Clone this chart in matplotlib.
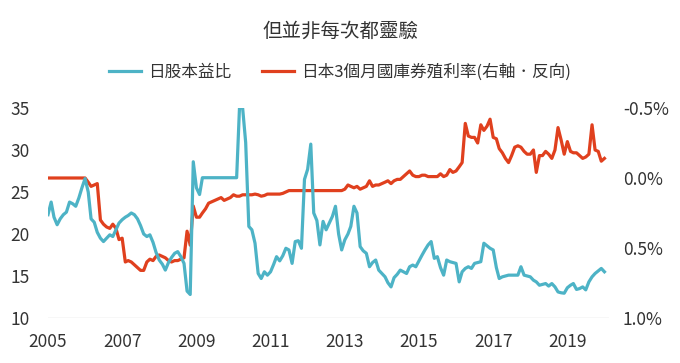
import numpy as np
import pandas as pd
import matplotlib
matplotlib.use("Agg")
import matplotlib.pyplot as plt
import matplotlib.dates as mdates
from matplotlib.ticker import FuncFormatter

plt.rcParams['font.family'] = ['Noto Sans CJK TC', 'DejaVu Sans']

# monthly data, Jan 2005 .. Jan 2020
months = pd.date_range("2005-01-01", periods=181, freq="MS")
tick_years = [2005, 2007, 2009, 2011, 2013, 2015, 2017, 2019]

# Japan stock P/E (left axis)
pe = [
    22.3, 23.8, 22.0, 21.1, 21.8, 22.3, 22.6, 23.8, 23.6, 23.3, 24.3, 25.5,
    26.6, 25.0, 21.8, 21.4, 20.2, 19.5, 19.1, 19.5, 19.9, 19.7, 20.5, 21.3,
    21.7, 22.0, 22.2, 22.5, 22.3, 21.8, 21.0, 20.0, 19.7, 19.9, 19.0, 17.8,
    16.9, 16.4, 15.7, 16.6, 17.2, 17.7, 17.9, 17.3, 16.5, 13.2, 12.8, 28.6,
    25.5, 24.7, 26.7, 26.7, 26.7, 26.7, 26.7, 26.7, 26.7, 26.7, 26.7, 26.7,
    26.7, 26.7, 35.0, 35.0, 30.9, 20.9, 20.5, 18.9, 15.3, 14.7, 15.5, 15.1,
    15.5, 16.4, 17.3, 16.8, 17.4, 18.3, 18.1, 16.5, 19.1, 19.2, 18.3, 26.5,
    27.7, 30.7, 22.5, 21.6, 18.7, 21.5, 20.5, 21.3, 22.1, 23.3, 20.0, 18.1,
    19.3, 20.0, 20.9, 23.3, 22.5, 18.5, 18.0, 17.7, 16.1, 16.6, 16.9, 15.7,
    15.3, 14.9, 14.2, 13.7, 14.8, 15.2, 15.7, 15.5, 15.3, 16.1, 16.3, 16.1,
    16.8, 17.5, 18.1, 18.7, 19.1, 17.1, 17.3, 16.0, 15.1, 16.9, 16.7, 16.6,
    16.5, 14.3, 15.5, 15.9, 16.1, 15.9, 16.5, 16.6, 16.7, 18.9, 18.6, 18.3,
    18.1, 16.0, 14.7, 14.9, 15.0, 15.1, 15.1, 15.1, 15.1, 16.1, 15.1, 15.0,
    14.9, 14.5, 14.3, 13.9, 14.0, 14.1, 13.8, 14.1, 13.7, 13.1, 13.0, 12.95,
    13.6, 13.9, 14.1, 13.4, 13.5, 13.7, 13.35, 14.3, 14.9, 15.3, 15.6, 15.9,
    15.5,
]

# Japan 3M bill yield in % (right axis, inverted)
yld = [
    0.0, 0.0, 0.0, 0.0, 0.0, 0.0, 0.0, 0.0, 0.0, 0.0, 0.0, 0.0,
    0.0, 0.03, 0.06, 0.05, 0.04, 0.30, 0.33, 0.35, 0.36, 0.33, 0.36, 0.44,
    0.43, 0.60, 0.59, 0.60, 0.62, 0.64, 0.66, 0.66, 0.60, 0.58, 0.59, 0.56,
    0.55, 0.56, 0.57, 0.59, 0.60, 0.59, 0.59, 0.58, 0.57, 0.38, 0.48, 0.20,
    0.28, 0.28, 0.25, 0.22, 0.18, 0.17, 0.16, 0.15, 0.14, 0.16, 0.15, 0.14,
    0.12, 0.13, 0.13, 0.12, 0.12, 0.12, 0.12, 0.115, 0.12, 0.13, 0.125, 0.115,
    0.115, 0.115, 0.115, 0.115, 0.11, 0.10, 0.09, 0.09, 0.09, 0.09, 0.09, 0.09,
    0.09, 0.09, 0.09, 0.09, 0.09, 0.09, 0.09, 0.09, 0.09, 0.09, 0.09, 0.09,
    0.08, 0.05, 0.06, 0.07, 0.06, 0.08, 0.07, 0.06, 0.02, 0.06, 0.05, 0.05,
    0.04, 0.03, 0.02, 0.04, 0.02, 0.01, 0.01, -0.01, -0.03, -0.05, -0.02, -0.01,
    -0.01, -0.02, -0.02, -0.01, -0.01, -0.01, -0.01, -0.03, -0.01, -0.02, -0.06, -0.04,
    -0.05, -0.08, -0.11, -0.39, -0.30, -0.29, -0.29, -0.25, -0.38, -0.34, -0.37, -0.42,
    -0.29, -0.28, -0.21, -0.18, -0.14, -0.11, -0.16, -0.22, -0.23, -0.22, -0.19, -0.17,
    -0.17, -0.20, -0.04, -0.16, -0.16, -0.19, -0.17, -0.14, -0.20, -0.36, -0.27, -0.17,
    -0.26, -0.19, -0.18, -0.18, -0.16, -0.14, -0.15, -0.17, -0.38, -0.20, -0.19, -0.12,
    -0.14,
]

title = "但並非每次都靈驗"
pe_label = "日股本益比"
yld_label = "日本3個月國庫券殖利率(右軸．反向)"
blue = "#4db3c6"
red = "#e0401e"
txt = "#333333"

fig = plt.figure(figsize=(6.8, 3.63), dpi=100)
ax = fig.add_axes([0.0706, 0.124, 0.825, 0.5785])
ax2 = ax.twinx()

ax.plot(months, pe, color=blue, lw=2.3, label=pe_label, zorder=2)
ax2.plot(months, yld, color=red, lw=2.3, label=yld_label, zorder=3)

ax.set_ylim(10, 35)
ax.set_yticks([10, 15, 20, 25, 30, 35])
ax2.set_ylim(1.0, -0.5)
ax2.set_yticks([-0.5, 0.0, 0.5, 1.0])
ax2.yaxis.set_major_formatter(FuncFormatter(lambda v, p: f"{v:.1f}%"))

ax.set_xlim(pd.Timestamp("2005-01-01"), pd.Timestamp("2020-02-15"))
ax.set_xticks([pd.Timestamp(f"{y}-01-01") for y in tick_years])
ax.xaxis.set_major_formatter(mdates.DateFormatter("%Y"))

for a in (ax, ax2):
    for s in a.spines.values():
        s.set_visible(False)
    a.tick_params(length=0, labelsize=12.5, labelcolor=txt)
ax.tick_params(axis="y", pad=13)
ax2.tick_params(axis="y", pad=10)
ax.tick_params(axis="x", pad=11)
ax.axhline(10, color="#d9d9d9", lw=1, zorder=1)

# the red line sits on top of the blue one
ax.set_zorder(ax2.get_zorder() + 1)
ax.patch.set_visible(False)
ax2.set_zorder(0)

fig.text(0.5, 0.915, title, ha="center", va="center", fontsize=14,
         color=txt, fontweight="medium")
h1, l1 = ax.get_legend_handles_labels()
h2, l2 = ax2.get_legend_handles_labels()
fig.legend(h1 + h2, l1 + l2, loc="center", bbox_to_anchor=(0.5, 0.80), ncol=2,
           frameon=False, fontsize=12, handlelength=1.9, handletextpad=0.4,
           columnspacing=1.9, labelcolor=txt)

fig.savefig("out.png", dpi=100)
